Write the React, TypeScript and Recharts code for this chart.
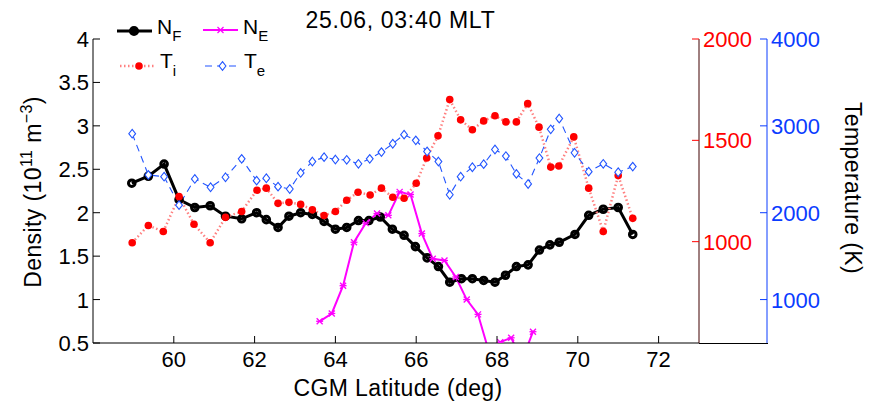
import { ComposedChart, Line, XAxis, YAxis } from 'recharts';

// latitude (deg) and values
const nfLat = [58.96, 59.37, 59.76, 60.13, 60.52, 60.9, 61.28, 61.68, 62.05, 62.29, 62.58, 62.85, 63.14, 63.43, 63.72, 64.0, 64.28, 64.57, 64.83, 65.11, 65.41, 65.7, 65.98, 66.27, 66.55, 66.83, 67.12, 67.39, 67.67, 67.95, 68.21, 68.48, 68.77, 69.05, 69.31, 69.54, 69.93, 70.27, 70.63, 71.0, 71.36];
const nfVal = [2.34, 2.42, 2.56, 2.15, 2.06, 2.08, 1.96, 1.93, 2.0, 1.92, 1.83, 1.96, 2.0, 1.98, 1.9, 1.81, 1.83, 1.91, 1.91, 1.95, 1.81, 1.74, 1.61, 1.48, 1.38, 1.2, 1.24, 1.24, 1.22, 1.2, 1.28, 1.38, 1.4, 1.57, 1.63, 1.66, 1.75, 1.97, 2.04, 2.06, 1.75];

const neLat = [63.61, 63.91, 64.19, 64.46, 64.75, 65.03, 65.31, 65.59, 65.86, 66.14, 66.41, 66.7, 66.98, 67.25, 67.53, 67.8, 68.08, 68.35, 68.62, 68.89];
const neVal = [0.75, 0.84, 1.16, 1.66, 1.88, 1.99, 1.97, 2.24, 2.21, 1.76, 1.47, 1.45, 1.26, 1.0, 0.83, 0.4, 0.51, 0.56, 0.3, 0.63];

const tiLat = [58.97, 59.37, 59.74, 60.13, 60.5, 60.9, 61.28, 61.68, 62.06, 62.29, 62.58, 62.85, 63.14, 63.43, 63.72, 64.0, 64.28, 64.56, 64.86, 65.14, 65.42, 65.7, 66.0, 66.26, 66.54, 66.83, 67.1, 67.39, 67.67, 67.95, 68.22, 68.48, 68.76, 69.04, 69.33, 69.53, 69.9, 70.27, 70.63, 71.0, 71.36];
const tiVal = [995, 1080, 1050, 1222, 1086, 995, 1120, 1149, 1254, 1264, 1189, 1194, 1184, 1157, 1129, 1149, 1204, 1244, 1230, 1264, 1219, 1214, 1288, 1413, 1522, 1701, 1601, 1552, 1596, 1621, 1591, 1591, 1681, 1565, 1368, 1373, 1517, 1264, 1050, 1326, 1115];

const teLat = [58.97, 59.37, 59.76, 60.13, 60.52, 60.91, 61.28, 61.68, 62.05, 62.29, 62.58, 62.87, 63.14, 63.43, 63.72, 64.0, 64.28, 64.57, 64.85, 65.14, 65.42, 65.7, 65.99, 66.27, 66.55, 66.83, 67.1, 67.39, 67.67, 67.95, 68.22, 68.48, 68.77, 69.05, 69.33, 69.54, 69.92, 70.27, 70.63, 71.0, 71.36];
const teVal = [2910, 2435, 2415, 2087, 2389, 2293, 2408, 2620, 2369, 2397, 2300, 2273, 2458, 2589, 2640, 2612, 2609, 2563, 2620, 2698, 2794, 2899, 2833, 2705, 2589, 2207, 2415, 2524, 2559, 2728, 2652, 2447, 2331, 2629, 2960, 3084, 2690, 2473, 2563, 2466, 2531];

const latTicks = [60, 62, 64, 66, 68, 70, 72];
const densTicks = [0.5, 1, 1.5, 2, 2.5, 3, 3.5, 4];
const tiTicks = [1000, 1500, 2000];
const teTicks = [1000, 2000, 3000, 4000];

const toPoints = (xs: number[], ys: number[]) => xs.map((x, i) => ({ x, y: ys[i] }));
const nfData = toPoints(nfLat, nfVal);
const neData = toPoints(neLat, neVal);
const tiData = toPoints(tiLat, tiVal);
const teData = toPoints(teLat, teVal);

const FONT = 'Liberation Sans, Arial, Helvetica, sans-serif';
const RED = '#ff0000';
const BLUE = '#0a3cff';
const TICK_FS = 22;

const XTick = (p: any) => (
  <g>
    <line x1={p.x} y1={p.y} x2={p.x} y2={p.y - 7} stroke="#000" />
    <text x={p.x} y={p.y + 24} textAnchor="middle" fontSize={TICK_FS} fontFamily={FONT} fill="#000">
      {p.payload.value}
    </text>
  </g>
);

const LeftTick = (p: any) => (
  <g>
    <line x1={p.x} y1={p.y} x2={p.x + 7} y2={p.y} stroke="#000" />
    <text x={p.x - 4} y={p.y + 8} textAnchor="end" fontSize={TICK_FS} fontFamily={FONT} fill="#000">
      {p.payload.value}
    </text>
  </g>
);

const rightTick = (color: string) => (p: any) => (
  <g>
    <line x1={p.x} y1={p.y} x2={p.x - 7} y2={p.y} stroke={color} />
    <text x={p.x + 4} y={p.y + 8} textAnchor="start" fontSize={TICK_FS} fontFamily={FONT} fill={color}>
      {p.payload.value}
    </text>
  </g>
);

const CircleDot = (p: any) => (
  <circle key={p.index} cx={p.cx} cy={p.cy} r={3.3} fill="none" stroke="#000" strokeWidth={3} />
);

const StarDot = (p: any) => {
  const s = 3;
  return (
    <g key={p.index} stroke="#ff00ff" strokeWidth={1.3}>
      <line x1={p.cx - s} y1={p.cy - s} x2={p.cx + s} y2={p.cy + s} />
      <line x1={p.cx - s} y1={p.cy + s} x2={p.cx + s} y2={p.cy - s} />
      <line x1={p.cx - s - 0.5} y1={p.cy} x2={p.cx + s + 0.5} y2={p.cy} />
    </g>
  );
};

const RedDot = (p: any) => <circle key={p.index} cx={p.cx} cy={p.cy} r={3.8} fill={RED} stroke="none" />;

const Diamond = (p: any) => (
  <path
    key={p.index}
    d={`M${p.cx},${p.cy - 4.3}L${p.cx + 3.4},${p.cy}L${p.cx},${p.cy + 4.3}L${p.cx - 3.4},${p.cy}Z`}
    fill="#fff"
    stroke="#2255ff"
    strokeWidth={1.1}
  />
);

const Overlay = () => (
  <svg width={870} height={404} style={{ position: 'absolute', left: 0, top: 0, pointerEvents: 'none' }} fontFamily={FONT}>
    <text x={400.5} y={28} textAnchor="middle" fontSize={23} letterSpacing={0.7}>25.06, 03:40 MLT</text>
    {/* second axes bottom edge */}
    <line x1={699} y1={343.5} x2={768} y2={343.5} stroke="#000" />
    {/* legend */}
    <line x1={117} y1={31} x2={152} y2={31} stroke="#000" strokeWidth={3} />
    <circle cx={134} cy={31} r={3.6} fill="#000" stroke="#000" strokeWidth={3} />
    <text x={157} y={34} fontSize={21}>N<tspan fontSize={15} dy={7}>F</tspan></text>
    <line x1={203} y1={30} x2={238} y2={30} stroke="#ff00ff" strokeWidth={2} />
    <StarDot cx={220.5} cy={30} />
    <text x={243} y={34} fontSize={21}>N<tspan fontSize={15} dy={7}>E</tspan></text>
    <line x1={120} y1={66} x2={154} y2={66} stroke="#ff8080" strokeWidth={2.5} strokeDasharray="1.5 2.5" />
    <RedDot cx={139} cy={66} />
    <text x={160} y={68} fontSize={21}>T<tspan fontSize={15} dy={8}>i</tspan></text>
    <line x1={205} y1={66} x2={241} y2={66} stroke="#2255ff" strokeWidth={1.1} strokeDasharray="7 5" />
    <Diamond cx={222.5} cy={66} />
    <text x={244} y={68} fontSize={21}>T<tspan fontSize={15} dy={8}>e</tspan></text>
    {/* axis labels */}
    <text transform="translate(41,192) rotate(-90)" textAnchor="middle" fontSize={23} letterSpacing={0.4}>
      Density (10<tspan fontSize={16} dy={-9}>11</tspan>
      <tspan dy={9}> m</tspan>
      <tspan fontSize={16} dy={-9}>−3</tspan>
      <tspan dy={9}>)</tspan>
    </text>
    <text transform="translate(845,188) rotate(90)" textAnchor="middle" fontSize={23} letterSpacing={0.4}>Temperature (K)</text>
    <text x={398} y={396} textAnchor="middle" fontSize={23} letterSpacing={0.4}>CGM Latitude (deg)</text>
  </svg>
);

export default function App() {
  return (
    <div style={{ position: 'absolute', left: 0, top: 0, width: 870, height: 404, background: '#fff' }}>
      <ComposedChart width={870} height={404} margin={{ top: 39, right: 0, bottom: 0, left: 0 }}>
        <XAxis
          type="number"
          dataKey="x"
          domain={[58, 73]}
          ticks={latTicks}
          allowDataOverflow
          height={61}
          stroke="#000"
          tickLine={false}
          tickSize={0}
          tickMargin={0}
          tick={XTick}
        />
        <YAxis
          yAxisId="dens"
          orientation="left"
          domain={[0.5, 4]}
          ticks={densTicks}
          allowDataOverflow
          width={93}
          stroke="#000"
          tickLine={false}
          tickSize={0}
          tickMargin={0}
          tick={LeftTick}
        />
        <YAxis
          yAxisId="r1"
          orientation="right"
          domain={[500, 2000]}
          ticks={tiTicks}
          allowDataOverflow
          width={68}
          stroke="#400000"
          tickLine={false}
          tickSize={0}
          tickMargin={0}
          tick={rightTick(RED)}
        />
        <YAxis
          yAxisId="r2"
          orientation="right"
          domain={[500, 4000]}
          ticks={teTicks}
          allowDataOverflow
          width={103}
          stroke={BLUE}
          tickLine={false}
          tickSize={0}
          tickMargin={0}
          tick={rightTick(BLUE)}
        />
        <Line yAxisId="dens" data={nfData} dataKey="y" type="linear" stroke="#000" strokeWidth={3} dot={CircleDot} isAnimationActive={false} />
        <Line yAxisId="dens" data={neData} dataKey="y" type="linear" stroke="#ff00ff" strokeWidth={2} dot={StarDot} isAnimationActive={false} />
        <Line yAxisId="r1" data={tiData} dataKey="y" type="linear" stroke="#ff8080" strokeWidth={2.5} strokeDasharray="1.5 2.5" dot={RedDot} isAnimationActive={false} />
        <Line yAxisId="r2" data={teData} dataKey="y" type="linear" stroke="#2255ff" strokeWidth={1.1} strokeDasharray="7 5" dot={Diamond} isAnimationActive={false} />
      </ComposedChart>
      <Overlay />
    </div>
  );
}
